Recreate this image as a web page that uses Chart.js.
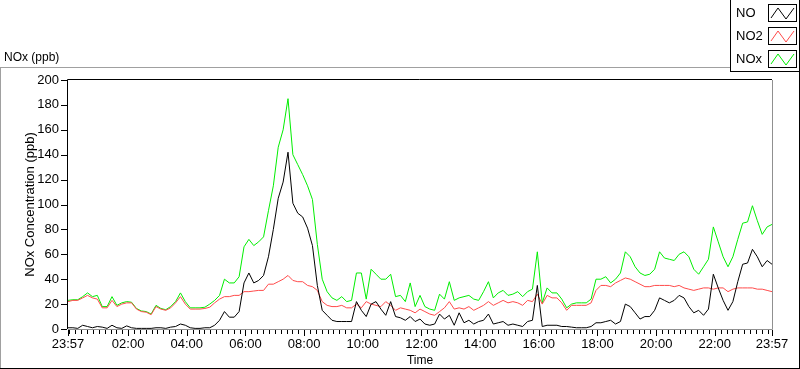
<!DOCTYPE html>
<html>
<head>
<meta charset="utf-8">
<script src="https://cdn.jsdelivr.net/npm/chart.js@4.4.1/dist/chart.umd.min.js"></script>
<style>
  html, body { margin: 0; padding: 0; background: #fff; }
  #wrap { width: 800px; height: 369px; }
</style>
</head>
<body>
<div id="wrap"><canvas id="noxChart" width="800" height="369"></canvas></div>
<script>
// 10-minute readings from 23:57 to 23:57 next day
const stepMinutes = 10;

const noValues = [
  1, 1, 0.5, 3, 2, 1, 2, 1.5, 0.5, 3, 1, 0.5, 2.5, 1, 0.5, 0.5, 0.5, 0.5, 1, 1, 0.5, 1.5, 2, 4, 3,
  1, 0.5, 0.5, 1, 1, 3, 7, 14, 9.5, 9.5, 14, 37, 45, 37, 39, 43, 58, 80, 105, 118, 142, 101, 93, 90,
  81, 67, 35, 15, 11, 7, 6, 6, 6, 6, 22, 15, 10, 20, 22, 16, 11, 22, 10, 9, 7, 10, 6, 8,
  4, 3, 4, 12, 8, 11, 3, 13, 5, 7, 4, 6, 7, 12, 4, 5, 6, 3, 4, 3, 2, 6, 7, 35,
  2, 3, 3, 3, 2, 2, 1.5, 1, 1, 1, 2, 5, 5, 6, 7, 4, 6, 20, 18, 13, 8, 10, 10, 15,
  25, 23, 21, 23, 27, 25, 18, 13, 15, 11, 16, 44, 33, 23, 15, 22, 38, 52, 53, 64, 58, 50, 55, 52
];

const no2Values = [
  22, 23, 23, 25, 27, 25, 24, 17, 17, 23, 18, 20, 21, 21, 16, 14, 13.5, 11.5, 18, 16, 15, 17, 21, 26, 20,
  16, 16, 16, 16.5, 17.5, 21, 24, 26, 26, 27, 27, 30, 30, 30.5, 31, 31, 36, 36, 38, 40, 43, 39, 38, 38,
  35, 34, 31, 22, 19, 18, 18, 19, 17, 17, 20, 17, 22, 20, 19, 18, 22, 19, 15, 17, 16, 15, 13, 16,
  14, 12, 11, 14, 17, 22, 16, 17, 16, 18, 15, 17, 19, 22, 19, 21, 23, 21, 22, 21, 19, 23, 22, 28,
  20, 27, 25, 25, 21, 15, 19, 19, 19, 19, 21, 31, 35, 35, 34, 37, 39, 41, 40, 38, 36, 34, 34, 35,
  35, 35, 35, 34, 35, 33, 32, 31, 32, 33, 33, 32, 33, 33, 30, 32, 33, 33, 33, 33, 32, 32, 31, 30
];

const noxValues = [
  23, 23.5, 23.5, 26, 29, 26, 27, 18, 18, 26, 19, 21, 22, 21.5, 16.5, 14.5, 14, 12, 19, 16.5, 15.5, 18, 22, 29, 22,
  17, 17, 17, 17.5, 20, 23, 27, 40, 37, 37, 42, 66, 72, 67, 70, 74, 95, 115, 146, 160, 185, 140, 132, 124,
  115, 104, 68, 40, 30, 25, 23, 26, 22, 23, 45, 45, 24, 48, 44, 40, 40, 44, 26, 27, 22, 37, 18, 27,
  18, 16, 15, 28, 24, 38, 23, 25, 26, 27, 24, 23, 30, 38, 25, 29, 31, 27, 28, 30, 26, 30, 32, 62,
  21, 33, 29, 29, 24, 17, 20, 21, 21, 21, 24, 40, 40, 42, 37, 40, 45, 62, 58, 50, 45, 43, 44, 48,
  62, 57, 56, 55, 60, 62, 58, 48, 44, 50, 56, 82, 70, 58, 50, 58, 72, 85, 86, 99, 87, 76, 82, 84
];

// tick positions in minutes after 23:57
const xTickMinutes = [0, 123, 243, 363, 483, 603, 723, 843, 963, 1083, 1203, 1323, 1440];
const xTickLabels = ['23:57', '02:00', '04:00', '06:00', '08:00', '10:00', '12:00', '14:00', '16:00', '18:00', '20:00', '22:00', '23:57'];
const yTicks = [0, 20, 40, 60, 80, 100, 120, 140, 160, 180, 200];

const seriesNames = ['NO', 'NO2', 'NOx'];
const seriesColors = ['#000000', '#ff4a4a', '#00ee00'];

const sansFont = "'Liberation Sans', Arial, sans-serif";
const narrowFont = "'Liberation Sans Narrow', 'Liberation Sans', Arial, sans-serif";

function toPoints(values) {
  return values.map((v, i) => ({ x: i * stepMinutes, y: v }));
}

const framePlugin = {
  id: 'labviewFrame',
  afterDraw(chart) {
    const c = chart.ctx;
    const area = chart.chartArea;
    const xs = chart.scales.x;
    const ys = chart.scales.y;
    c.save();
    c.lineWidth = 1;

    // outer panel
    c.strokeStyle = '#a0a0a0';
    c.beginPath();
    c.moveTo(0, 67.5); c.lineTo(730, 67.5);
    c.moveTo(0.5, 67); c.lineTo(0.5, 368);
    c.stroke();
    c.strokeStyle = '#000';
    c.beginPath();
    c.moveTo(0, 368.5); c.lineTo(800, 368.5);
    c.moveTo(799.5, 71); c.lineTo(799.5, 369);
    c.stroke();

    // plot border
    c.strokeStyle = '#000';
    c.beginPath();
    c.moveTo(area.left - 0.5, area.bottom); c.lineTo(area.left - 0.5, area.top - 0.5);
    c.lineTo(area.right, area.top - 0.5);
    c.stroke();
    c.strokeStyle = '#909090';
    c.beginPath();
    c.moveTo(area.right + 0.5, area.top); c.lineTo(area.right + 0.5, area.bottom + 0.5);
    c.lineTo(area.left, area.bottom + 0.5);
    c.stroke();

    // tick marks
    c.strokeStyle = '#000';
    c.beginPath();
    yTicks.forEach(v => {
      const py = Math.round(ys.getPixelForValue(v)) + 0.5;
      c.moveTo(area.left - 7, py); c.lineTo(area.left - 1, py);
    });
    for (let m = 3; m < 1440; m += 12) {
      const px = Math.round(xs.getPixelForValue(m)) + 0.5;
      c.moveTo(px, area.bottom + 1); c.lineTo(px, area.bottom + 5);
    }
    xTickMinutes.forEach(m => {
      const px = Math.round(xs.getPixelForValue(m)) + 0.5;
      c.moveTo(px, area.bottom + 1); c.lineTo(px, area.bottom + 7);
    });
    c.stroke();

    // titles
    c.fillStyle = '#000';
    c.font = '12px ' + sansFont;
    c.textAlign = 'left';
    c.textBaseline = 'middle';
    c.fillText('NOx (ppb)', 4, 58);
    c.textAlign = 'center';
    c.fillText('Time', (area.left + area.right) / 2, 361);
    c.save();
    c.translate(30, (area.top + area.bottom) / 2);
    c.rotate(-Math.PI / 2);
    c.font = '13px ' + narrowFont;
    c.fillText('NOx Concentration (ppb)', 0, 0);
    c.restore();

    // legend
    c.fillStyle = '#fff';
    c.fillRect(730, 0, 70, 72);
    c.strokeStyle = '#000';
    c.strokeRect(730.5, -0.5, 69, 72);
    const rowY = [4, 27, 50];
    seriesNames.forEach((name, i) => {
      const y0 = rowY[i];
      c.fillStyle = '#000';
      c.font = '13px ' + sansFont;
      c.textAlign = 'left';
      c.textBaseline = 'middle';
      c.fillText(name, 736, y0 + 9);
      c.strokeStyle = '#000';
      c.strokeRect(768.5, y0 + 0.5, 28, 17);
      c.strokeStyle = seriesColors[i];
      c.beginPath();
      c.moveTo(771, y0 + 14);
      c.lineTo(778, y0 + 4);
      c.lineTo(786, y0 + 15);
      c.lineTo(794, y0 + 4);
      c.stroke();
    });
    c.restore();
  }
};

const ctx = document.getElementById('noxChart').getContext('2d');
const datasets = [noValues, no2Values, noxValues].map((vals, i) => ({
  label: seriesNames[i],
  data: toPoints(vals),
  borderColor: seriesColors[i],
  borderWidth: 1,
  pointRadius: 0,
  tension: 0,
  fill: false,
  clip: false
}));

new Chart(ctx, {
  type: 'line',
  data: { datasets: datasets },
  options: {
    responsive: false,
    animation: false,
    devicePixelRatio: 1,
    layout: { padding: { top: 80, right: 28, left: 0, bottom: 0 } },
    plugins: { legend: { display: false }, tooltip: { enabled: false } },
    scales: {
      x: {
        type: 'linear',
        min: 0,
        max: 1440,
        grid: { display: false, drawTicks: false },
        border: { display: false },
        afterBuildTicks: scale => { scale.ticks = xTickMinutes.map(v => ({ value: v })); },
        afterFit: scale => { scale.height = 40; },
        ticks: {
          autoSkip: false,
          maxRotation: 0,
          padding: 8,
          color: '#000',
          font: { family: narrowFont, size: 13 },
          callback: value => xTickLabels[xTickMinutes.indexOf(value)]
        }
      },
      y: {
        min: 0,
        max: 200,
        grid: { display: false, drawTicks: false },
        border: { display: false },
        afterBuildTicks: scale => { scale.ticks = yTicks.map(v => ({ value: v })); },
        afterFit: scale => { scale.width = 68; },
        ticks: {
          padding: 9,
          color: '#000',
          font: { family: narrowFont, size: 13 }
        }
      }
    }
  },
  plugins: [framePlugin]
});
</script>
</body>
</html>
